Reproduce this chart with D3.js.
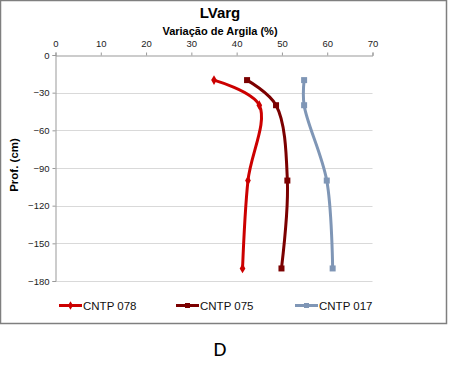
<!DOCTYPE html>
<html><head><meta charset="utf-8">
<script src="https://cdn.jsdelivr.net/npm/d3@7"></script>
<style>body{margin:0;background:#fff}svg{display:block}</style>
</head><body>
<svg id="c" width="450" height="374"></svg>
<script>
const depths = [-20, -40, -100, -170];
const cntp078 = [35, 45, 42.5, 41.3];
const cntp075 = [42.3, 48.7, 51.2, 49.9];
const cntp017 = [54.9, 54.9, 59.9, 61.2];
const seriesNames = ["CNTP 078", "CNTP 075", "CNTP 017"];
const xTicks = [0, 10, 20, 30, 40, 50, 60, 70];
const yTicks = [0, -30, -60, -90, -120, -150, -180];

const colors = ["#CC0000", "#7B0000", "#7F96B6"];
const series = [cntp078, cntp075, cntp017];

const svg = d3.select("#c");
const font = "Liberation Sans, Arial, sans-serif";

// frame
svg.append("rect").attr("x", 0.5).attr("y", 0.5).attr("width", 446).attr("height", 323)
  .attr("fill", "#fff").attr("stroke", "#7f7f7f").attr("stroke-width", 1.5);

const x = d3.scaleLinear().domain([0, 70]).range([55.5, 372.5]);
const y = d3.scaleLinear().domain([0, -180]).range([55, 281]);

// gridlines
svg.append("g").selectAll("line").data(yTicks.filter(d => d !== 0)).join("line")
  .attr("x1", x(0)).attr("x2", x(70)).attr("y1", d => Math.round(y(d)) + 0.5).attr("y2", d => Math.round(y(d)) + 0.5)
  .attr("stroke", "#d9d9d9").attr("stroke-width", 1.2);

// top axis
const xa = svg.append("g").attr("transform", "translate(0,55.5)")
  .call(d3.axisTop(x).tickValues(xTicks).tickSize(3).tickFormat(d3.format("d")));
xa.select(".domain").attr("stroke", "#999");
xa.selectAll(".tick line").attr("stroke", "#999");
xa.selectAll("text").attr("font-family", font).attr("font-size", 9.5).attr("fill", "#222").attr("dy", "-0.3em");

// left axis
const ya = svg.append("g").attr("transform", "translate(55.5,0)")
  .call(d3.axisLeft(y).tickValues(yTicks).tickSize(3).tickFormat(d3.format("d")));
ya.select(".domain").attr("stroke", "#999");
ya.selectAll(".tick line").attr("stroke", "#999");
ya.selectAll("text").attr("font-family", font).attr("font-size", 9.5).attr("fill", "#222").attr("x", -6);

// lines
const line = d3.line().x(d => x(d[0])).y(d => y(d[1])).curve(d3.curveCatmullRom.alpha(0.5));
series.forEach((vals, i) => {
  const pts = vals.map((v, j) => [v, depths[j]]);
  svg.append("path").datum(pts).attr("d", line).attr("fill", "none")
    .attr("stroke", colors[i]).attr("stroke-width", 3).attr("stroke-linecap", "round");
  const g = svg.append("g");
  pts.forEach(p => {
    if (i === 0) {
      g.append("path").attr("d", d3.symbol(d3.symbolDiamond, 28)())
        .attr("transform", `translate(${x(p[0])},${y(p[1])})`).attr("fill", colors[i]);
    } else {
      g.append("rect").attr("x", x(p[0]) - 3).attr("y", y(p[1]) - 3)
        .attr("width", 6).attr("height", 6).attr("fill", colors[i]);
    }
  });
});

// titles
svg.append("text").attr("x", 220).attr("y", 18).attr("text-anchor", "middle")
  .attr("font-family", font).attr("font-weight", "bold").attr("font-size", 15).text("LVarg");
svg.append("text").attr("x", 220).attr("y", 35).attr("text-anchor", "middle")
  .attr("font-family", font).attr("font-weight", "bold").attr("font-size", 11).text("Variação de Argila (%)");
svg.append("text").attr("transform", "translate(18,165) rotate(-90)").attr("text-anchor", "middle")
  .attr("font-family", font).attr("font-weight", "bold").attr("font-size", 11.5).text("Prof. (cm)");

// legend
const legX = [59, 176, 295];
seriesNames.forEach((n, i) => {
  const g = svg.append("g");
  g.append("line").attr("x1", legX[i]).attr("x2", legX[i] + 23).attr("y1", 305.5).attr("y2", 305.5)
    .attr("stroke", colors[i]).attr("stroke-width", 3);
  if (i === 0) {
    g.append("path").attr("d", d3.symbol(d3.symbolDiamond, 22)())
      .attr("transform", `translate(${legX[i] + 11.5},305.5)`).attr("fill", colors[i]);
  } else {
    g.append("rect").attr("x", legX[i] + 9).attr("y", 303).attr("width", 5).attr("height", 5).attr("fill", colors[i]);
  }
  g.append("text").attr("x", legX[i] + 24).attr("y", 309.5).attr("font-family", font)
    .attr("font-size", 11.5).attr("fill", "#111").text(n);
});

svg.append("text").attr("x", 220).attr("y", 356).attr("text-anchor", "middle")
  .attr("font-family", "Carlito, Liberation Sans, sans-serif").attr("font-size", 21).text("D");
</script>
</body></html>
